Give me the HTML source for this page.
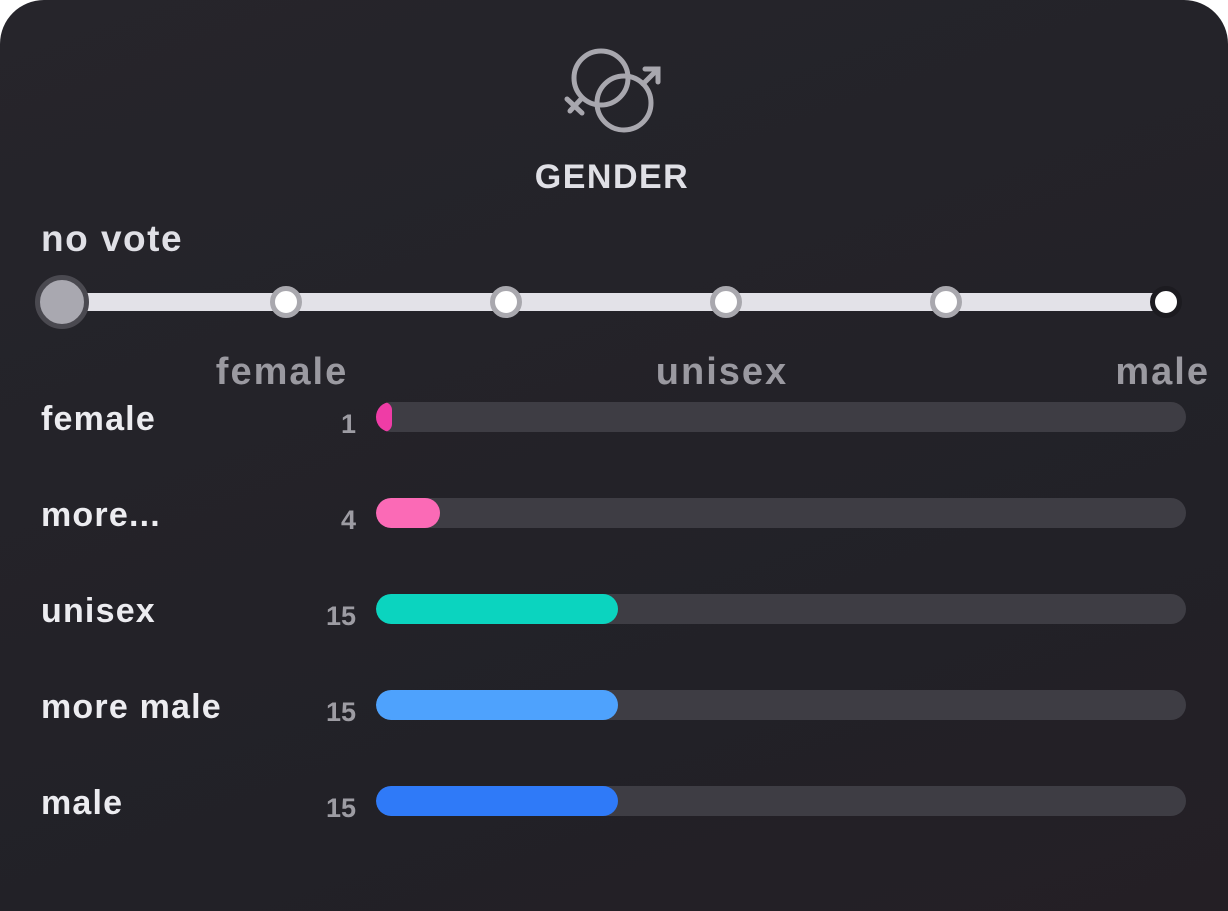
<!DOCTYPE html>
<html><head><style>
html,body{margin:0;padding:0;background:#fff;}
.card{position:absolute;left:0;top:0;width:1228px;height:911px;background:linear-gradient(160deg,#26252b 0%,#222127 70%,#241f25 100%);border-radius:44px 44px 0 0;overflow:hidden;font-family:"Liberation Sans",sans-serif;}
.t{position:absolute;white-space:nowrap;}
.lab{left:41px;font-size:34px;font-weight:bold;color:#ececf0;letter-spacing:1.2px;}
.num{width:100px;left:256px;text-align:right;font-size:27px;font-weight:bold;color:#9d9ca3;}
.track{position:absolute;left:376px;width:810px;height:30px;border-radius:15px;background:#3e3d44;overflow:hidden;}
.fill{position:absolute;left:0;top:0;height:30px;border-radius:15px;}
.ax{font-size:38px;font-weight:bold;color:#9a99a0;letter-spacing:2px;}
.knob{position:absolute;width:22px;height:22px;border-radius:50%;background:#fff;border:5px solid #a9a8ae;}
</style></head><body>
<div class="card">
<svg style="position:absolute;left:0;top:0" width="1228" height="911">
<g fill="none" stroke="#a8a7ae" stroke-width="5" stroke-linecap="round">
<circle cx="601" cy="78" r="27"/>
<circle cx="624" cy="103" r="27"/>
<line x1="582" y1="98" x2="570" y2="111"/>
<line x1="567" y1="99" x2="582" y2="113"/>
<line x1="643" y1="84" x2="657" y2="70"/>
<polyline points="645,69 658,69 658,82"/>
</g>
</svg>
<div class="t" style="left:0;width:1224px;text-align:center;top:158px;font-size:34px;font-weight:bold;color:#e0e0e6;letter-spacing:1.5px;">GENDER</div>
<div class="t" style="left:41px;top:218px;font-size:37px;font-weight:bold;color:#e0e0e6;letter-spacing:1.5px;">no vote</div>
<div style="position:absolute;left:62px;top:293px;width:1114px;height:18px;background:#e3e2e8;"></div>
<div style="position:absolute;left:35px;top:275px;width:44px;height:44px;border-radius:50%;background:#a9a8b0;border:5px solid #4a4950;"></div>
<div class="knob" style="left:270px;top:286px"></div>
<div class="knob" style="left:490px;top:286px"></div>
<div class="knob" style="left:710px;top:286px"></div>
<div class="knob" style="left:930px;top:286px"></div>
<div class="knob" style="left:1150px;top:286px;border-color:#1c1b20"></div>
<div class="t ax" style="left:182px;width:200px;text-align:center;top:351px">female</div>
<div class="t ax" style="left:622px;width:200px;text-align:center;top:351px">unisex</div>
<div class="t ax" style="left:1010px;width:200px;text-align:right;top:351px">male</div>

<div class="t lab" style="top:400px">female</div>
<div class="t num" style="top:409px">1</div>
<div class="track" style="top:402px"><div class="fill" style="width:16px;background:#ef3ca6"></div></div>

<div class="t lab" style="top:496px">more...</div>
<div class="t num" style="top:505px">4</div>
<div class="track" style="top:498px"><div class="fill" style="width:64px;background:#fb6ab6"></div></div>

<div class="t lab" style="top:592px">unisex</div>
<div class="t num" style="top:601px">15</div>
<div class="track" style="top:594px"><div class="fill" style="width:242px;background:#0bd4bf"></div></div>

<div class="t lab" style="top:688px">more male</div>
<div class="t num" style="top:697px">15</div>
<div class="track" style="top:690px"><div class="fill" style="width:242px;background:#4ea2fd"></div></div>

<div class="t lab" style="top:784px">male</div>
<div class="t num" style="top:793px">15</div>
<div class="track" style="top:786px"><div class="fill" style="width:242px;background:#2f7af8"></div></div>
</div>
</body></html>
